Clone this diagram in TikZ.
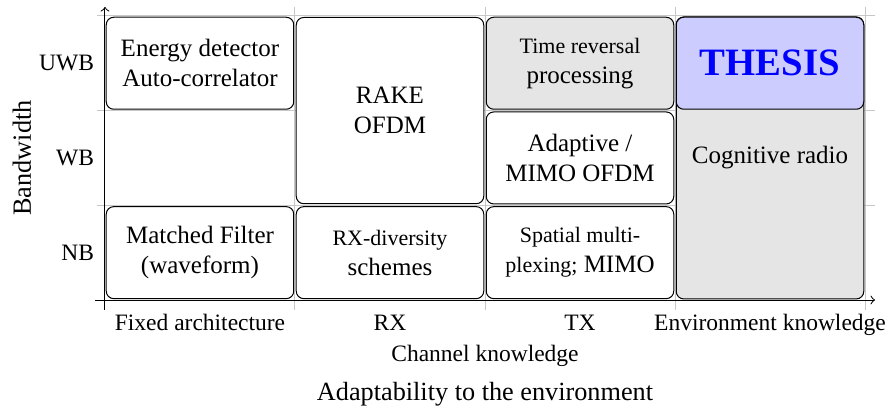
\documentclass[tikz,border=0pt]{standalone}
\usepackage{fontspec}
\setmainfont{Liberation Serif}
\usepackage{xcolor}
\usetikzlibrary{calc, positioning}
\newcommand{\technique}[5]{
    \node[draw, rounded corners=3pt, fill=#4, align=center, minimum width=75pt, minimum height=#3, inner sep=0cm] (#1) at (#2) {#5};
}
\newcommand{\rowlabel}[3]{
    \node[anchor=east, inner sep=0cm, font=\fontsize{9.4}{11}\selectfont] (#1) at (-0.055, #2) {#3};
}
\newcommand{\collabel}[3]{
    \node[anchor=base, inner sep=0cm, font=\fontsize{9.4}{11}\selectfont] (#1) at (#2, -0.327) {#3};
}
\newcommand{\smalltxt}[1]{{\fontsize{8.8}{12}\selectfont #1}}

\begin{document}
\begin{tikzpicture}[x=76pt, y=37.88pt, font=\fontsize{10}{12}\selectfont,
    gridline/.style={draw=black!22, line width=0.4pt}]
                    \useasboundingbox (-0.5526, -1.1616) rectangle (4.1211, 3.1679);
                    % grid
                    \foreach \i in {0,...,4}
                        \draw[gridline] (\i, -0.105) -- (\i, 3.09);
                    \foreach \j in {1,2,3}
                        \draw[gridline] (-0.042, \j) -- (4.05, \j);
                    % techniques
                    \technique{energy}{0.5, 2.5}{36.8pt}{white}{Energy detector\\Auto-correlator}
                    \technique{matched}{0.5, 0.5}{36.8pt}{white}{Matched Filter\\(waveform)}
                    \technique{rake}{1.5, 2}{74.5pt}{white}{RAKE\\OFDM}
                    \technique{rxdiv}{1.5, 0.5}{36.8pt}{white}{\smalltxt{RX-diversity}\\schemes}
                    \technique{timerev}{2.5, 2.5}{36.8pt}{black!10}{\smalltxt{Time reversal}\\processing}
                    \technique{adaptive}{2.5, 1.5}{36.8pt}{white}{Adaptive /\\MIMO OFDM}
                    \technique{spatial}{2.5, 0.5}{36.8pt}{white}{\smalltxt{Spatial multi-}\\\smalltxt{plexing;} MIMO}
                    \technique{cognitive}{3.5, 1.5}{112.8pt}{black!10}{Cognitive radio}
                    \technique{thesis}{3.5, 2.5}{36.8pt}{blue!20}{\textcolor{blue}{\fontsize{15.5}{18}\selectfont\bfseries THESIS}}
                    % axes
                    \coordinate (xaxis-l) at (-0.0526, 0);
                    \coordinate (xaxis-r) at (4.053, 0);
                    \coordinate (yaxis-d) at (0, -0.1056);
                    \coordinate (yaxis-u) at (0, 3.094);
                    \draw[->] (xaxis-l) -- (xaxis-r);
                    \draw[->] (yaxis-d) -- (yaxis-u);
                    % labels
                    \rowlabel{uwb}{2.5}{UWB}
                    \rowlabel{wb}{1.5}{WB}
                    \rowlabel{nb}{0.5}{NB}
                    \collabel{fixed}{0.5}{Fixed architecture}
                    \collabel{rx}{1.5}{RX}
                    \collabel{tx}{2.5}{TX}
                    \collabel{env}{3.5}{Environment knowledge}
                    \node[anchor=base, inner sep=0cm, font=\fontsize{9.4}{11}\selectfont] (channel) at (2, -0.651) {Channel knowledge};
                    \node[anchor=base, inner sep=0cm, font=\fontsize{10.5}{12}\selectfont] (adapt) at (2, -1.056) {Adaptability to the environment};
                    \node[rotate=90, inner sep=0cm, font=\fontsize{10.5}{12}\selectfont] (bandwidth) at (-0.437, 1.5) {Bandwidth};
                \end{tikzpicture}
\end{document}
